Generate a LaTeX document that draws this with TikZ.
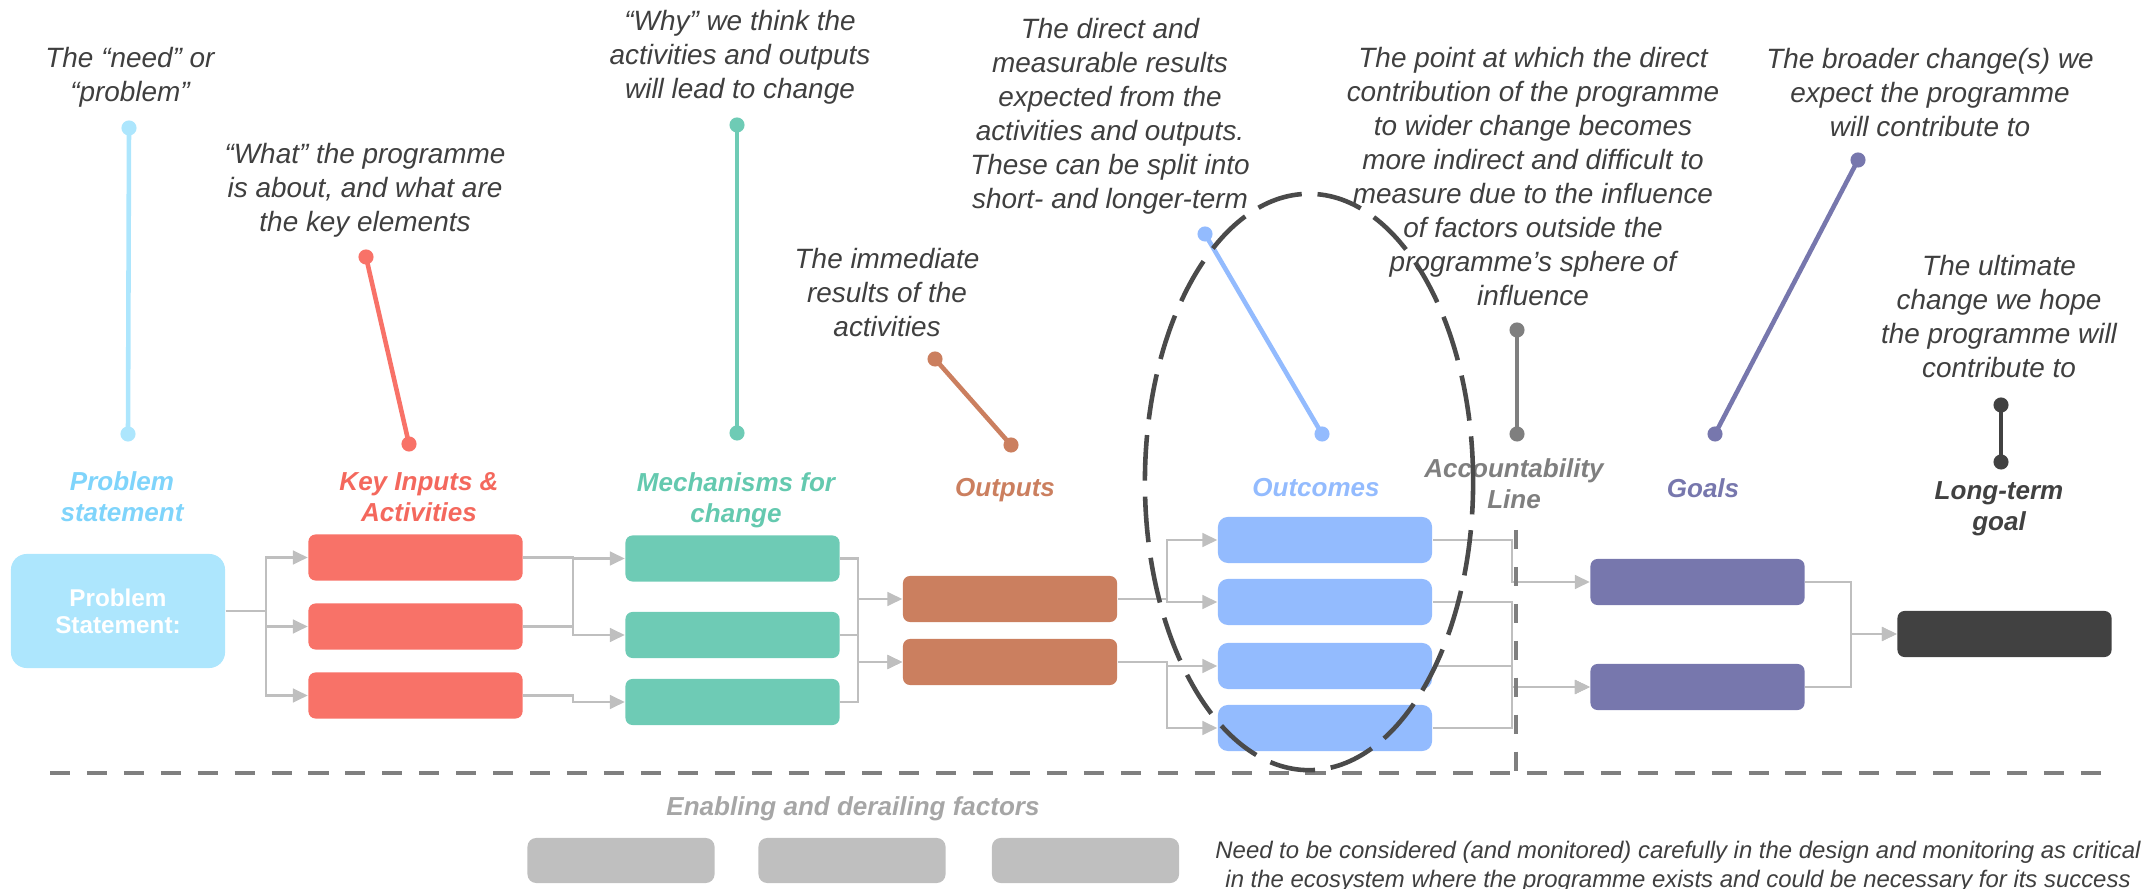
\documentclass[tikz,border=0pt]{standalone}
\usepackage{fontspec}
\setmainfont{Liberation Sans}
\usetikzlibrary{arrows.meta,calc}
\definecolor{anntext}{HTML}{3F3F3F}
\definecolor{conncol}{HTML}{BFBFBF}
\definecolor{cprob}{HTML}{ADE6FD}
\definecolor{cprobh}{HTML}{7FD4FB}
\definecolor{cred}{HTML}{F87268}
\definecolor{credh}{HTML}{F4685D}
\definecolor{cgreen}{HTML}{6ECBB5}
\definecolor{cgreenh}{HTML}{64C9AF}
\definecolor{cbrown}{HTML}{CB7F5F}
\definecolor{cblue}{HTML}{93BBFE}
\definecolor{cpurple}{HTML}{7777AD}
\definecolor{cdark}{HTML}{414141}
\definecolor{cgray}{HTML}{7F7F7F}
\definecolor{clgray}{HTML}{BFBFBF}
\definecolor{cenab}{HTML}{A6A6A6}
\definecolor{cell}{HTML}{4A4A4A}
\tikzset{
  box/.style={rounded corners=2pt, inner sep=0pt, minimum width=2.14cm, minimum height=0.46cm},
  ann/.style={font=\fontsize{7.94}{9.67}\selectfont\itshape, text=anntext, align=center, inner sep=0pt, anchor=north},
  hdr/.style={font=\fontsize{7.4}{8.82}\selectfont\bfseries\itshape, align=center, inner sep=0pt, anchor=north},
  conn/.style={draw=conncol, line width=0.6pt},
  arr/.style={conn, -{Triangle[length=4.2pt,width=3.9pt]}},
  lolli/.style={line width=1.3pt},
  hdash/.style={draw=cgray, line width=1.4pt, dash pattern=on 5.7pt off 4.8pt},
}
\begin{document}
\begin{tikzpicture}[x=0.01cm,y=-0.01cm]
\useasboundingbox (0,0) rectangle (2143,889);
% junction columns
\coordinate (j1) at (266,0);
\coordinate (j2) at (573,0);
\coordinate (j3) at (858,0);
\coordinate (j4) at (1167,0);
\coordinate (j5) at (1512,0);
\coordinate (j6) at (1851,0);
% boxes
\node[fill=cprob, rounded corners=4.5pt, minimum width=2.14cm, minimum height=1.14cm, inner sep=0pt,
      font=\fontsize{6.9}{7.7}\selectfont\bfseries, text=white, align=center] (prob) at (118,611) {Problem\\Statement:};
\node[box, fill=cred] (red1) at (415.5,557.5) {};
\node[box, fill=cred] (red2) at (415.5,626.5) {};
\node[box, fill=cred] (red3) at (415.5,695.5) {};
\node[box, fill=cgreen] (green1) at (732.5,558.5) {};
\node[box, fill=cgreen] (green2) at (732.5,635) {};
\node[box, fill=cgreen] (green3) at (732.5,702) {};
\node[box, fill=cbrown] (brown1) at (1010,599) {};
\node[box, fill=cbrown] (brown2) at (1010,662) {};
\node[box, fill=cblue, rounded corners=2.8pt] (blue1) at (1325,540) {};
\node[box, fill=cblue, rounded corners=2.8pt] (blue2) at (1325,602) {};
\node[box, fill=cblue, rounded corners=2.8pt] (blue3) at (1325,666) {};
\node[box, fill=cblue, rounded corners=2.8pt] (blue4) at (1325,728) {};
\node[box, fill=cpurple] (purple1) at (1697.5,582) {};
\node[box, fill=cpurple] (purple2) at (1697.5,687) {};
\node[box, fill=cdark] (dark) at (2004.5,634) {};
\node[box, fill=clgray, rounded corners=2.5pt, minimum width=1.87cm, minimum height=0.45cm] (gray1) at (621,860.5) {};
\node[box, fill=clgray, rounded corners=2.5pt, minimum width=1.87cm, minimum height=0.45cm] (gray2) at (852,860.5) {};
\node[box, fill=clgray, rounded corners=2.5pt, minimum width=1.87cm, minimum height=0.45cm] (gray3) at (1085.5,860.5) {};
% connectors
\draw[arr] (prob.east) -| (j1 |- red1.west) -- (red1.west);
\draw[arr] (prob.east) -| (j1 |- red2.west) -- (red2.west);
\draw[arr] (prob.east) -| (j1 |- red3.west) -- (red3.west);
\draw[arr] (red1.east) -| (j2 |- green1.west) -- (green1.west);
\draw[arr] (red2.east) -| (j2 |- green2.west) -- (green2.west);
\draw[conn] (j2 |- red1.east) -- (j2 |- red2.east);
\draw[arr] (red3.east) -| (j2 |- green3.west) -- (green3.west);
\draw[arr] (green1.east) -| (j3 |- brown1.west) -- (brown1.west);
\draw[arr] (green2.east) -| (j3 |- brown2.west) -- (brown2.west);
\draw[arr] (green3.east) -| (j3 |- brown2.west) -- (brown2.west);
\draw[conn] (j3 |- green1.east) -- (j3 |- green3.east);
\draw[arr] (brown1.east) -| (j4 |- blue1.west) -- (blue1.west);
\draw[arr] (brown1.east) -| (j4 |- blue2.west) -- (blue2.west);
\draw[arr] (brown2.east) -| (j4 |- blue3.west) -- (blue3.west);
\draw[arr] (brown2.east) -| (j4 |- blue4.west) -- (blue4.west);
\draw[arr] (blue1.east) -| (j5 |- purple1.west) -- (purple1.west);
\draw[arr] (blue2.east) -| (j5 |- purple2.west) -- (purple2.west);
\draw[arr] (blue3.east) -| (j5 |- purple2.west) -- (purple2.west);
\draw[arr] (blue4.east) -| (j5 |- purple2.west) -- (purple2.west);
\draw[arr] (purple1.east) -| (j6 |- dark.west) -- (dark.west);
\draw[arr] (purple2.east) -| (j6 |- dark.west) -- (dark.west);
% headers
\node[hdr, text=cprobh] (hprob) at (122,471) {Problem\\statement};
\node[hdr, text=credh] (hred) at (419,472) {Key Inputs \&\\Activities};
\node[hdr, text=cgreenh] (hgreen) at (736,472) {Mechanisms for\\change};
\node[hdr, text=cbrown] (hbrown) at (1005,478) {Outputs};
\node[hdr, text=cblue] (hblue) at (1316,478) {Outcomes};
\node[hdr, text=cgray] (hacc) at (1514,458) {Accountability\\Line};
\node[hdr, text=cpurple] (hpurple) at (1703,478) {Goals};
\node[hdr, text=cdark] (hdark) at (1999,481) {Long-term\\goal};
\node[font=\fontsize{7.4}{8.82}\selectfont\bfseries\itshape, text=cenab, inner sep=0pt, anchor=base] (henab) at (853,816) {Enabling and derailing factors};
% annotations
\node[ann] (t1) at (130,47) {The “need” or\\“problem”};
\node[ann] (t2) at (365,143) {“What” the programme\\is about, and what are\\the key elements};
\node[ann] (t3) at (740,10) {“Why” we think the\\activities and outputs\\will lead to change};
\node[ann] (t4) at (887,248) {The immediate\\results of the\\activities};
\node[ann] (t5) at (1110,18) {The direct and\\measurable results\\expected from the\\activities and outputs.\\These can be split into\\short- and longer-term};
\node[ann] (t6) at (1533,47) {The point at which the direct\\contribution of the programme\\to wider change becomes\\more indirect and difficult to\\measure due to the influence\\of factors outside the\\programme’s sphere of\\influence};
\node[ann] (t7) at (1930,48) {The broader change(s) we\\expect the programme\\will contribute to};
\node[ann] (t8) at (1999,255) {The ultimate\\change we hope\\the programme will\\contribute to};
\node[ann, font=\fontsize{6.8}{8.25}\selectfont\itshape] (note) at (1678,840) {Need to be considered (and monitored) carefully in the design and monitoring as critical\\in the ecosystem where the programme exists and could be necessary for its success};
% lollipops
\coordinate (l1a) at (129,128);  \coordinate (l1b) at (128,434);
\coordinate (l2a) at (366,257);  \coordinate (l2b) at (409,444);
\coordinate (l3a) at (737,125);  \coordinate (l3b) at (737,433);
\coordinate (l4a) at (935,359);  \coordinate (l4b) at (1011,445);
\coordinate (l5a) at (1205,234); \coordinate (l5b) at (1322,434);
\coordinate (l6a) at (1517,330); \coordinate (l6b) at (1517,434);
\coordinate (l7a) at (1858,160); \coordinate (l7b) at (1715,434);
\coordinate (l8a) at (2001,405); \coordinate (l8b) at (2001,462);
\foreach \n/\c in {1/cprob,2/cred,3/cgreen,4/cbrown,5/cblue,6/cgray,7/cpurple,8/cdark}{
  \draw[lolli, draw=\c] (l\n a) -- (l\n b);
  \fill[\c] (l\n a) circle[radius=2.15pt];
  \fill[\c] (l\n b) circle[radius=2.15pt];
}
% dashed lines
\coordinate (hd1) at (50,773);
\coordinate (hd2) at (2108,773);
\draw[hdash] (hd1) -- (hd2);
\coordinate (acc1) at (1516,530);
\coordinate (acc2) at (1516,773);
\draw[draw=cgray, line width=1.4pt, dash pattern=on 5.4pt off 5.1pt] (acc1) -- (acc2);
% ellipse
\draw[draw=cell, line width=1.3pt, dash pattern=on 13pt off 4.5pt] (1309,482) ellipse [x radius=1.64cm, y radius=2.88cm];
\end{tikzpicture}
\end{document}
